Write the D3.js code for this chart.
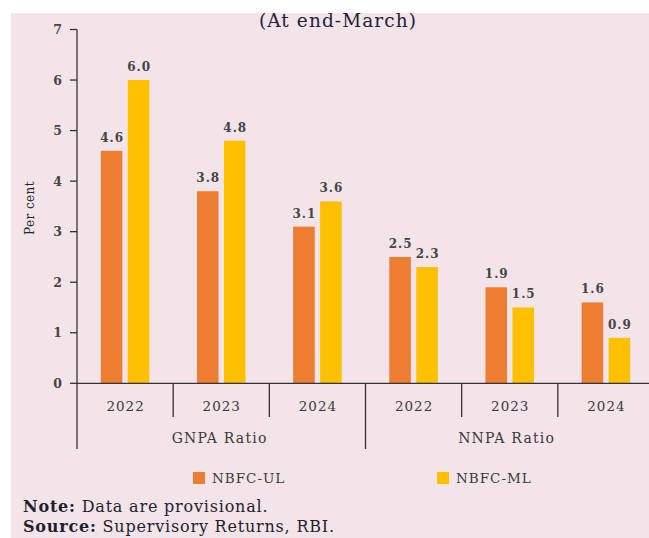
<!DOCTYPE html>
<html><head><meta charset="utf-8">
<script src="https://cdn.jsdelivr.net/npm/d3@7"></script>
<style>
html,body{margin:0;padding:0;background:#fff;}
svg{display:block;}
text{font-family:"DejaVu Serif","Liberation Serif",serif;}
</style></head>
<body>
<script>
const categories = ["2022","2023","2024","2022","2023","2024"];
const groups = ["GNPA Ratio","NNPA Ratio"];
const seriesNames = ["NBFC-UL","NBFC-ML"];
const ulValues = [4.6, 3.8, 3.1, 2.5, 1.9, 1.6];
const mlValues = [6.0, 4.8, 3.6, 2.3, 1.5, 0.9];
const yTicks = [0,1,2,3,4,5,6,7];
const colors = ["#ED7D31","#FFC000"];

const W = 649, H = 538;
const svg = d3.select("body").append("svg").attr("width", W).attr("height", H);

svg.append("rect").attr("x", 11).attr("y", 13).attr("width", W - 11).attr("height", H - 13).attr("fill", "#f3e4e9");

const x0 = d3.scaleBand().domain(d3.range(categories.length)).range([77, 654]).padding(0);
const bw = x0.bandwidth();
const x1 = d3.scaleBand().domain(seriesNames).range([bw*0.2474, bw*0.7526]).paddingInner(0.2).paddingOuter(0);
const y = d3.scaleLinear().domain([0, 7]).range([383.3, 29.5]);

// title
svg.append("text").attr("x", 338).attr("y", 27).attr("text-anchor", "middle")
  .attr("font-size", 18.5).attr("letter-spacing", 1.1).attr("fill", "#22223a").text("(At end-March)");

// bars
const data = categories.map((c, i) => ({i, vals: [ulValues[i], mlValues[i]]}));
const g = svg.append("g");
data.forEach(d => {
  d.vals.forEach((v, k) => {
    const bx = x0(d.i) + x1(seriesNames[k]);
    g.append("rect").attr("x", bx).attr("y", y(v)).attr("width", x1.bandwidth())
      .attr("height", y(0) - y(v)).attr("fill", colors[k]);
    g.append("text").attr("x", bx + x1.bandwidth()/2 + 0.5).attr("y", y(v) - 9)
      .attr("text-anchor", "middle").attr("font-size", 12).attr("letter-spacing", 1)
      .attr("fill", "#454545").attr("font-weight", "bold").text(v.toFixed(1));
  });
});

// y axis
const ax = svg.append("g").attr("stroke", "#333").attr("stroke-width", 1.3);
ax.append("line").attr("x1", 77).attr("x2", 77).attr("y1", y(7)).attr("y2", 449);
yTicks.forEach(t => {
  ax.append("line").attr("x1", 70).attr("x2", 77).attr("y1", y(t)).attr("y2", y(t));
  svg.append("text").attr("x", 62).attr("y", y(t) + 4.5).attr("text-anchor", "end")
    .attr("font-size", 12.5).attr("font-weight", "bold").attr("fill", "#454545").text(t);
});

// x axis
ax.append("line").attr("x1", 77).attr("x2", W).attr("y1", y(0)).attr("y2", y(0));
for (let i = 1; i < categories.length; i++) {
  const xx = x0(i);
  const long = (i === 3);
  ax.append("line").attr("x1", xx).attr("x2", xx).attr("y1", y(0)).attr("y2", long ? 449 : 417);
}
categories.forEach((c, i) => {
  svg.append("text").attr("x", x0(i) + bw/2 + 0.5).attr("y", 411).attr("text-anchor", "middle")
    .attr("font-size", 13.5).attr("letter-spacing", 1).attr("fill", "#3a3a3a").text(c);
});
const groupCenters = [219, 506];
groups.forEach((gname, gi) => {
  svg.append("text").attr("x", groupCenters[gi] + 0.6).attr("y", 443).attr("text-anchor", "middle")
    .attr("font-size", 14).attr("letter-spacing", 1.2).attr("fill", "#3a3a3a").text(gname);
});

// y label
svg.append("text").attr("transform", "translate(34,208) rotate(-90)").attr("text-anchor", "middle")
  .attr("font-size", 12).attr("letter-spacing", 0.4).attr("fill", "#262626").text("Per cent");

// legend
const legX = [193, 437];
seriesNames.forEach((s, k) => {
  svg.append("rect").attr("x", legX[k]).attr("y", 472).attr("width", 12).attr("height", 12).attr("fill", colors[k]);
  svg.append("text").attr("x", legX[k] + 19).attr("y", 483).attr("font-size", 13.5)
    .attr("letter-spacing", 1).attr("fill", "#3a3a3a").text(s);
});

// notes
const n1 = svg.append("text").attr("x", 23).attr("y", 512).attr("font-size", 16).attr("letter-spacing", 0.8).attr("fill", "#1e1e30");
n1.append("tspan").attr("font-weight", "bold").text("Note:");
n1.append("tspan").text(" Data are provisional.");
const n2 = svg.append("text").attr("x", 23).attr("y", 532).attr("font-size", 16).attr("letter-spacing", 0.8).attr("fill", "#1e1e30");
n2.append("tspan").attr("font-weight", "bold").text("Source:");
n2.append("tspan").text(" Supervisory Returns, RBI.");
</script>
</body></html>
